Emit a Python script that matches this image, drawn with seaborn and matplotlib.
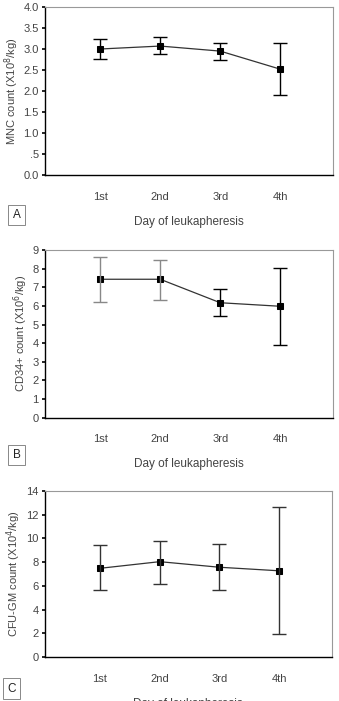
import numpy as np
import pandas as pd
import seaborn as sns
import matplotlib.pyplot as plt

days = ["1st", "2nd", "3rd", "4th"]

mnc_mean = [3.00, 3.07, 2.95, 2.52]
mnc_low = [2.76, 2.87, 2.73, 1.90]
mnc_high = [3.25, 3.29, 3.15, 3.15]

cd34_mean = [7.43, 7.43, 6.17, 5.98]
cd34_low = [6.21, 6.33, 5.44, 3.92]
cd34_high = [8.61, 8.45, 6.91, 8.05]

cfu_mean = [7.48, 8.04, 7.57, 7.27]
cfu_low = [5.64, 6.14, 5.64, 1.94]
cfu_high = [9.45, 9.81, 9.52, 12.63]

sns.set_style("white")
plt.rcParams['font.family'] = ['Liberation Sans', 'DejaVu Sans']

W, H = 339, 701
fig = plt.figure(figsize=(W / 100, H / 100), dpi=100)

TXT = "#444444"


def panel(rect, mean, low, high, ylim, yticks, yticklabels, ylabel, letter, box, bar_colors):
    ax = fig.add_axes(rect)
    df = pd.DataFrame({"x": np.arange(len(days)), "y": mean})
    sns.lineplot(data=df, x="x", y="y", ax=ax, color="#333333", lw=0.9,
                 marker="s", markersize=4, markeredgecolor="black",
                 markerfacecolor="black")
    for i in range(len(days)):
        ax.errorbar(i, mean[i],
                    yerr=[[mean[i] - low[i]], [high[i] - mean[i]]],
                    fmt="none", ecolor=bar_colors[i], elinewidth=1.0,
                    capsize=5, capthick=1.0, zorder=3)
    ax.set_xlim(-0.92, 3.88)
    ax.set_ylim(*ylim)
    ax.set_xticks(range(len(days)))
    ax.set_xticklabels(days, fontsize=8, color=TXT)
    ax.set_yticks(yticks)
    ax.set_yticklabels(yticklabels, fontsize=8, color=TXT)
    ax.tick_params(axis="x", length=0, pad=12)
    ax.tick_params(axis="y", length=2.5, width=1.2, color="black", pad=2, direction="out", left=True)
    ax.set_xlabel("Day of leukapheresis", fontsize=8.5, color=TXT, labelpad=10)
    ax.set_ylabel(ylabel, fontsize=8, color=TXT, labelpad=2)
    for s in ["left", "bottom"]:
        ax.spines[s].set_color("black")
        ax.spines[s].set_linewidth(1.0)
    for s in ["top", "right"]:
        ax.spines[s].set_color("#999999")
        ax.spines[s].set_linewidth(0.8)
    bx, by = box
    fig.text(bx / W, 1 - by / H, letter, fontsize=8.5, color="#222222",
             ha="center", va="center",
             bbox=dict(boxstyle="square,pad=0.35", fc="white", ec="#888888", lw=0.7))
    return ax


panel([45 / W, 1 - 175 / H, 288 / W, 168 / H], mnc_mean, mnc_low, mnc_high,
      (0, 4.0), np.arange(0, 4.01, 0.5),
      ["0.0", ".5", "1.0", "1.5", "2.0", "2.5", "3.0", "3.5", "4.0"],
      "MNC count (X10$^8$/kg)", "A", (16.5, 215),
      ["black"] * 4)

panel([45 / W, 1 - 417.7 / H, 288 / W, 167.7 / H], cd34_mean, cd34_low, cd34_high,
      (0, 9), range(0, 10), [str(v) for v in range(0, 10)],
      "CD34+ count (X10$^6$/kg)", "B", (16.5, 455),
      ["#888888", "#888888", "black", "black"])

panel([45 / W, 1 - 657 / H, 286.7 / W, 166 / H], cfu_mean, cfu_low, cfu_high,
      (0, 14), range(0, 15, 2), [str(v) for v in range(0, 15, 2)],
      "CFU-GM count (X10$^4$/kg)", "C", (11.5, 688.5),
      ["#333333"] * 4)

fig.savefig("out.png", dpi=100)
